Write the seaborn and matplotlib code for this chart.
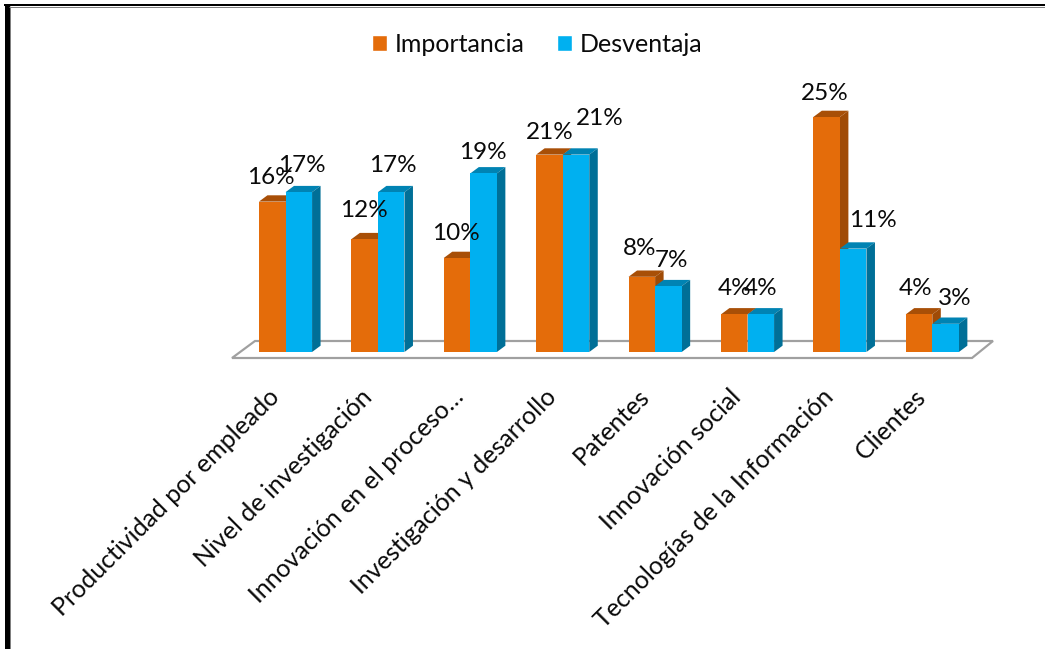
import matplotlib
matplotlib.use("Agg")
import matplotlib.pyplot as plt
from matplotlib.lines import Line2D
from matplotlib.patches import Polygon, Rectangle
from matplotlib.transforms import Affine2D, IdentityTransform
import pandas as pd
import seaborn as sns

categories = [
    "Productividad por empleado",
    "Nivel de investigación",
    "Innovación en el proceso…",
    "Investigación y desarrollo",
    "Patentes",
    "Innovación social",
    "Tecnologías de la Información",
    "Clientes",
]
importancia = [16, 12, 10, 21, 8, 4, 25, 4]
desventaja = [17, 17, 19, 21, 7, 4, 11, 3]

# Label nudges in pixels, one pair per bar (Importancia, then Desventaja)
nudge_imp = [(-1, 24), (-1, 29), (-1, 24), (0, 22), (-2, 28), (0, 26), (-2, 23), (-3, 26)]
nudge_des = [(3, 27), (2, 27), (-1, 21), (24, 36), (3, 26), (0, 26), (20, 28), (9, 25)]

W, H = 1045, 649
DPI = 100
DEPTH = (8.5, 6.3)

sns.set_theme(style="white")
plt.rcParams["font.family"] = ["Lato", "DejaVu Sans"]

orange = "#E46C0A"
orange_top = "#A84F07"
orange_side = "#A04B06"
blue = "#00B0F0"
blue_top = "#0083B3"
blue_side = "#006F97"
ink = "#0A0A0A"

frame = pd.DataFrame({
    "categoria": categories * 2,
    "serie": ["Importancia"] * len(categories) + ["Desventaja"] * len(categories),
    "valor": importancia + desventaja,
})

fig = plt.figure(figsize=(W / DPI, H / DPI), dpi=DPI, facecolor="white")

# Axes placed in pixels: x spans the floor, y=0 sits on the bar feet
left_px, right_px = 232, 993
base_px, top_px = 352, 90
ax = fig.add_axes([left_px / W, 1 - base_px / H, (right_px - left_px) / W, (base_px - top_px) / H])
ax.patch.set_alpha(0)

sns.barplot(
    data=frame, x="categoria", y="valor", hue="serie",
    palette={"Importancia": orange, "Desventaja": blue},
    width=0.575, gap=0, saturation=1, linewidth=0, ax=ax,
)
step = 92.4
first_centre = 285.5
ax.set_xlim((left_px - first_centre) / step, (right_px - first_centre) / step)
ax.set_ylim(0, (base_px - top_px) / 9.4)
ax.set_yticks([])
ax.set_xlabel("")
ax.set_ylabel("")
sns.despine(ax=ax, left=True, bottom=True)

ax.set_xticks(range(len(categories)))
ax.set_xticklabels(categories, rotation=45, ha="right", va="center", rotation_mode="anchor",
                   fontsize=18, color=ink)
ax.tick_params(axis="x", length=0, pad=29.5)
# Slide the slanted labels left so they end just short of their bars
for label in ax.get_xticklabels():
    label.set_transform(label.get_transform() + Affine2D().translate(-10, 0))
ax.get_legend().remove()

fig.canvas.draw()
to_px = ax.transData.transform


def extrude(bar, top_colour, side_colour, z):
    """Draw the top and side faces of a bar, offset by the fake 3-D depth."""
    x0, w, h = bar.get_x(), bar.get_width(), bar.get_height()
    (xa, ya), (xb, yb) = to_px((x0, 0)), to_px((x0 + w, h))
    dx, dy = DEPTH
    top = [(xa, yb), (xb, yb), (xb + dx, yb + dy), (xa + dx, yb + dy)]
    side = [(xb, ya), (xb + dx, ya + dy), (xb + dx, yb + dy), (xb, yb)]
    ax.add_patch(Polygon(top, closed=True, fc=top_colour, ec="none", transform=IdentityTransform(), zorder=z, clip_on=False))
    ax.add_patch(Polygon(side, closed=True, fc=side_colour, ec="none", transform=IdentityTransform(), zorder=z, clip_on=False))
    bar.set_zorder(z + 0.1)


bars_imp, bars_des = ax.containers[0], ax.containers[1]
for bar in bars_imp:
    extrude(bar, orange_top, orange_side, 3)
for bar in bars_des:
    extrude(bar, blue_top, blue_side, 4)

# Floor plate under the bars
fy = lambda p: H - p
floor = [(232, fy(358)), (972, fy(358)), (993, fy(341)), (255, fy(341))]
ax.add_patch(Polygon(floor, closed=True, fc="white", ec="#A0A0A0", lw=2.2 * 72 / DPI,
                     transform=IdentityTransform(), zorder=1, clip_on=False))

# Value labels
for bars, values, nudges in ((bars_imp, importancia, nudge_imp), (bars_des, desventaja, nudge_des)):
    for bar, value, (dx, dy) in zip(bars, values, nudges):
        ax.annotate(
            f"{value}%", xy=(bar.get_x() + bar.get_width() / 2, value),
            xytext=(dx * 72 / DPI, dy * 72 / DPI), textcoords="offset points",
            ha="center", va="center", fontsize=17.5, color=ink, zorder=6, annotation_clip=False,
        )

# Legend across the top of the figure
handles = [Rectangle((0, 0), 1, 1, fc=orange), Rectangle((0, 0), 1, 1, fc=blue)]
fig.legend(
    handles, ["Importancia", "Desventaja"], ncol=2, loc="center",
    bbox_to_anchor=(537 / W, 1 - 44 / H), frameon=False, fontsize=18,
    handlelength=0.62, handleheight=0.62, handletextpad=0.3, columnspacing=1.3,
    labelcolor=ink,
)

# Page frame: black rule on the top and left with a thin grey inner edge
for xs, ys, colour, lw in (
    ((6.5, 6.5), (4, H), "black", 5),
    ((9.5, 9.5), (6, H), "#808080", 1),
    ((4, W), (5, 5), "black", 2),
    ((9, W), (6.5, 6.5), "#808080", 1),
):
    fig.add_artist(Line2D([x / W for x in xs], [1 - y / H for y in ys], color=colour,
                          lw=lw * 72 / DPI, solid_capstyle="butt"))

fig.savefig("out.png", dpi=DPI)
